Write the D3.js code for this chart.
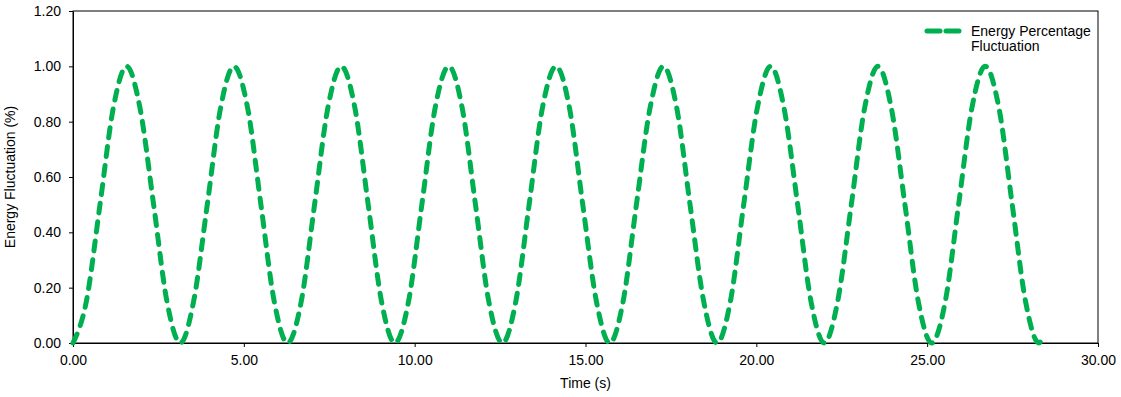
<!DOCTYPE html>
<html>
<head>
<meta charset="utf-8">
<script src="https://cdn.jsdelivr.net/npm/d3@7"></script>
<style>
  body { margin: 0; background: #fff; }
  text { font-family: "Liberation Sans", Arial, sans-serif; fill: #000; }
</style>
</head>
<body>
<div class="chart"></div>
<script>
var width = 1121, height = 397
var margin = {top: 11, right: 23, bottom: 54, left: 73}

// time (s)
var times = [0, 0.39, 0.79, 1.18, 1.57, 1.96, 2.36, 2.75,
    3.14, 3.53, 3.93, 4.32, 4.71, 5.11, 5.50, 5.89,
    6.28, 6.68, 7.07, 7.46, 7.85, 8.25, 8.64, 9.03,
    9.42, 9.82, 10.21, 10.60, 11.00, 11.39, 11.78, 12.17,
    12.57, 12.96, 13.35, 13.74, 14.14, 14.53, 14.92, 15.32,
    15.71, 16.10, 16.49, 16.89, 17.28, 17.67, 18.06, 18.46,
    18.85, 19.24, 19.63, 20.03, 20.42, 20.81, 21.21, 21.60,
    21.99, 22.38, 22.78, 23.17, 23.56, 23.95, 24.35, 24.74,
    25.13, 25.53, 25.92, 26.31, 26.70, 27.10, 27.49, 27.88,
    28.27, 28.40]

// energy fluctuation values
var energy = [0, 0.15, 0.50, 0.85, 1.00, 0.85, 0.50, 0.15,
    0, 0.15, 0.50, 0.85, 1.00, 0.85, 0.50, 0.15,
    0, 0.15, 0.50, 0.85, 1.00, 0.85, 0.50, 0.15,
    0, 0.15, 0.50, 0.85, 1.00, 0.85, 0.50, 0.15,
    0, 0.15, 0.50, 0.85, 1.00, 0.85, 0.50, 0.15,
    0, 0.15, 0.50, 0.85, 1.00, 0.85, 0.50, 0.15,
    0, 0.15, 0.50, 0.85, 1.00, 0.85, 0.50, 0.15,
    0, 0.15, 0.50, 0.85, 1.00, 0.85, 0.50, 0.15,
    0, 0.15, 0.50, 0.85, 1.00, 0.85, 0.50, 0.15,
    0, 0.03]

var xTicks = [0, 5, 10, 15, 20, 25, 30]
var yTicks = [0, 0.2, 0.4, 0.6, 0.8, 1.0, 1.2]
var seriesName = ['Energy Percentage', 'Fluctuation']
var lineColor = '#00b050'

var data = times.map(function(t, i) { return {t: t, v: energy[i]} })

var w = width - margin.left - margin.right
var h = height - margin.top - margin.bottom

var svg = d3.select('.chart')
    .append('svg')
    .attr('width', width)
    .attr('height', height)

var g = svg.append('g')
    .attr('transform', 'translate(' + margin.left + ',' + margin.top + ')')

var x = d3.scaleLinear().domain([0, 30]).range([0, w])
var y = d3.scaleLinear().domain([0, 1.2]).range([h, 0])

// plot frame
g.append('rect')
    .attr('width', w)
    .attr('height', h)
    .attr('fill', 'none')
    .attr('stroke', '#000')
    .attr('stroke-width', 1)

var xAxis = g.append('g')
    .attr('transform', 'translate(0,' + h + ')')
    .call(d3.axisBottom(x).tickValues(xTicks).tickSize(4).tickSizeOuter(0).tickPadding(8)
        .tickFormat(d3.format('.2f')))
xAxis.selectAll('text').style('font-size', '14px')

var yAxis = g.append('g')
    .call(d3.axisLeft(y).tickValues(yTicks).tickSize(4).tickSizeOuter(0).tickPadding(8)
        .tickFormat(d3.format('.2f')))
yAxis.selectAll('text').style('font-size', '14px')

g.selectAll('.domain, .tick line').attr('stroke', '#000')

// axis titles
svg.append('text')
    .attr('x', margin.left + w / 2)
    .attr('y', 388)
    .attr('text-anchor', 'middle')
    .style('font-size', '14px')
    .text('Time (s)')

svg.append('text')
    .attr('transform', 'translate(15,' + (margin.top + h / 2) + ') rotate(-90)')
    .attr('text-anchor', 'middle')
    .style('font-size', '14px')
    .text('Energy Fluctuation (%)')

var line = d3.line()
    .x(function(d) { return x(d.t) })
    .y(function(d) { return y(d.v) })
    .curve(d3.curveMonotoneX)

g.append('path')
    .datum(data)
    .attr('d', line)
    .attr('fill', 'none')
    .attr('stroke', lineColor)
    .attr('stroke-width', 5)
    .attr('stroke-linecap', 'round')
    .attr('stroke-dasharray', '10,9')

// legend
var legend = svg.append('g').attr('transform', 'translate(925,31)')
legend.append('line')
    .attr('x1', 2).attr('x2', 34)
    .attr('stroke', lineColor)
    .attr('stroke-width', 5)
    .attr('stroke-linecap', 'round')
    .attr('stroke-dasharray', '13,6')
legend.selectAll('text')
    .data(seriesName)
    .enter()
    .append('text')
    .attr('x', 46)
    .attr('y', function(d, i) { return 5 + i * 15 })
    .style('font-size', '14px')
    .text(function(d) { return d })
</script>
</body>
</html>
